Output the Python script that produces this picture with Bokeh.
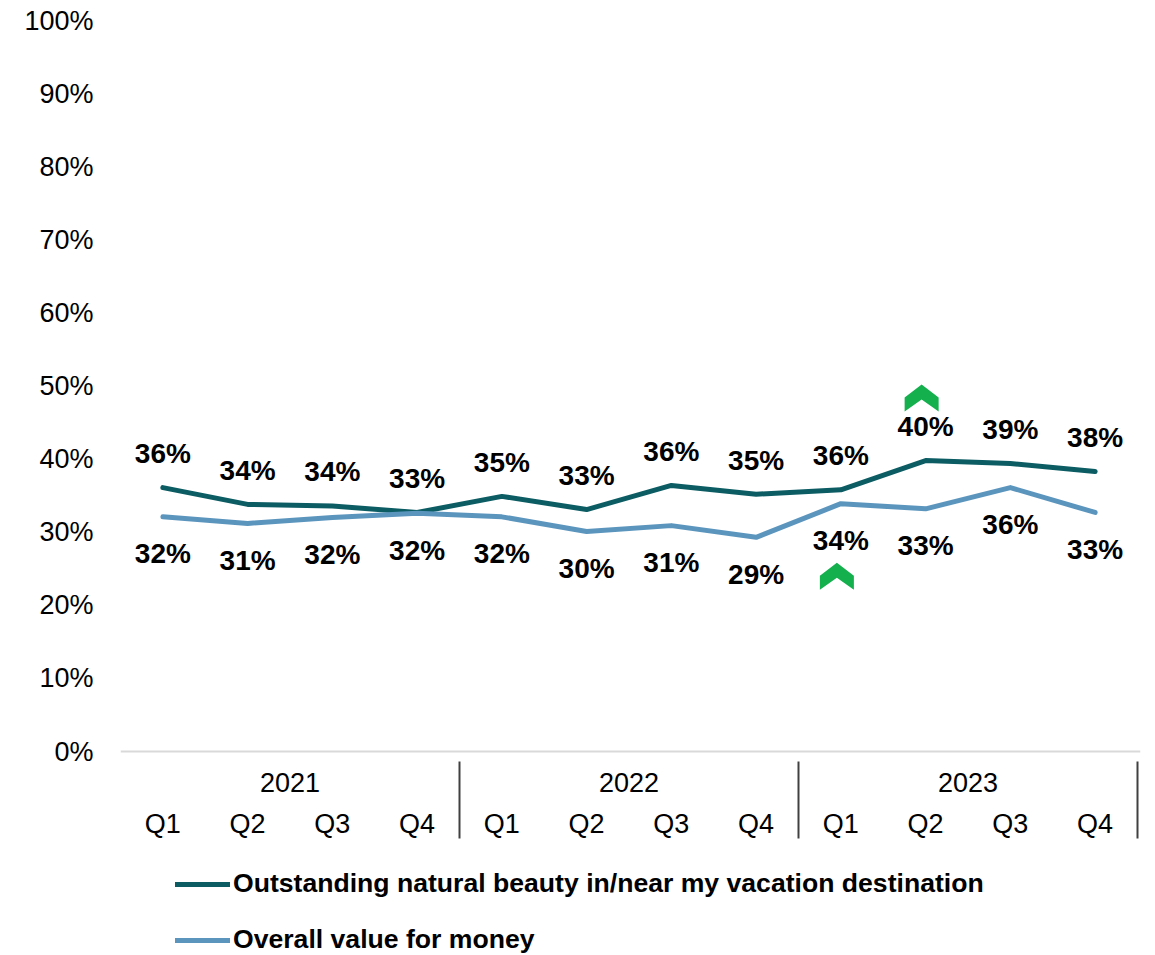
from bokeh.plotting import figure
from bokeh.models import Range1d, FixedTicker, PrintfTickFormatter, Span, Legend, LegendItem
from bokeh.core.properties import value
from bokeh.embed import file_html
from bokeh.resources import INLINE

# ---- data ----
years = ["2021", "2022", "2023"]
quarters = ["Q1", "Q2", "Q3", "Q4"]
series_names = ["Outstanding natural beauty in/near my vacation destination", "Overall value for money"]
natural_beauty = [36.1, 33.8, 33.6, 32.7, 34.9, 33.1, 36.4, 35.2, 35.8, 39.8, 39.4, 38.3]
value_for_money = [32.1, 31.2, 32.0, 32.6, 32.1, 30.1, 30.9, 29.3, 33.9, 33.2, 36.1, 32.7]
natural_labels = ["36%", "34%", "34%", "33%", "35%", "33%", "36%", "35%", "36%", "40%", "39%", "38%"]
value_labels = ["32%", "31%", "32%", "32%", "32%", "30%", "31%", "29%", "34%", "33%", "36%", "33%"]
# significant increases: (series index, quarter index)
increases = [(0, 9), (1, 8)]
y_ticks = [0, 10, 20, 30, 40, 50, 60, 70, 80, 90, 100]

# ---- layout constants (pixels) ----
W, H = 1155, 955
LEFT, RIGHT = 120, 1140
PX_PER_X = 84.75
Y0_PX, Y100_PX = 751, 20
PX_PER_Y = (Y0_PX - Y100_PX) / 100.0
n = len(years) * len(quarters)
REG = "27px"
BOLD = "28px"

def py(px):
    """pixel row -> data y"""
    return (Y0_PX - px) / PX_PER_Y

x_end = (RIGHT - LEFT) / PX_PER_X
p = figure(width=W, height=H, output_backend="svg", toolbar_location=None,
           x_range=Range1d(0, x_end), y_range=Range1d(py(H), py(0)),
           x_axis_location=None, min_border_left=LEFT, min_border_right=W - RIGHT,
           min_border_top=0, min_border_bottom=0)
p.outline_line_color = None
p.xgrid.visible = False
p.ygrid.visible = False
p.background_fill_color = "white"
p.border_fill_color = "white"

ax = p.yaxis[0]
ax.ticker = FixedTicker(ticks=y_ticks)
ax.formatter = PrintfTickFormatter(format="%d%%")
ax.axis_line_color = None
ax.major_tick_line_color = None
ax.minor_tick_line_color = None
ax.major_tick_out = 0
ax.major_label_standoff = 27
ax.major_label_text_font = "Liberation Sans"
ax.major_label_text_font_size = REG
ax.major_label_text_color = "#000000"

FONT = value("Liberation Sans")
DARK = "#0B5C63"
LIGHT = "#5B95BE"

p.add_layout(Span(location=0, dimension="width", line_color="#d9d9d9", line_width=2))

xs = [i + 0.5 for i in range(n)]

r1 = p.line(xs, natural_beauty, line_color=DARK, line_width=5, line_join="round", line_cap="round")
r2 = p.line(xs, value_for_money, line_color=LIGHT, line_width=5, line_join="round", line_cap="round")

p.text(xs, natural_beauty, text=natural_labels, y_offset=-34, text_align="center",
       text_baseline="middle", text_font=FONT, text_font_size=BOLD,
       text_font_style="bold", text_color="#000000")
p.text(xs, value_for_money, text=value_labels, y_offset=37, text_align="center",
       text_baseline="middle", text_font=FONT, text_font_size=BOLD,
       text_font_style="bold", text_color="#000000")

# category axis (years above quarters), separators
q_labels = [q for _ in years for q in quarters]
p.text(xs, [py(823)] * n, text=q_labels, text_align="center", text_baseline="middle",
       text_font=FONT, text_font_size=REG, text_color="#000000")
year_x = [len(quarters) * (k + 0.5) for k in range(len(years))]
p.text(year_x, [py(782)] * len(years), text=years, text_align="center", text_baseline="middle",
       text_font=FONT, text_font_size=REG, text_color="#000000")
sep_x = [len(quarters) * (k + 1) for k in range(len(years))]
p.segment(x0=sep_x, y0=[py(761)] * len(sep_x), x1=sep_x, y1=[py(838)] * len(sep_x),
          line_color="#404040", line_width=2)

# significant-increase chevrons
shape = [(0, 0), (17, 13), (17, 27), (0, 15), (-17, 27), (-17, 13)]
series_vals = [natural_beauty, value_for_money]
cx_list, cy_list = [], []
for s, i in increases:
    v = series_vals[s][i]
    top = v + 76 / PX_PER_Y if s == 0 else v - 59 / PX_PER_Y
    cx = i + 0.5 - 4 / PX_PER_X
    cx_list.append([cx + dx / PX_PER_X for dx, dy in shape])
    cy_list.append([top - dy / PX_PER_Y for dx, dy in shape])
p.patches(cx_list, cy_list, fill_color="#14B04E", line_color=None)

legend = Legend(items=[LegendItem(label=series_names[0], renderers=[r1]),
                       LegendItem(label=series_names[1], renderers=[r2])],
                location=(175 - LEFT, 0), orientation="vertical")
legend.padding = 0
legend.margin = 0
legend.border_line_color = None
legend.background_fill_alpha = 0
legend.glyph_width = 55
legend.glyph_height = 30
legend.label_height = 30
legend.spacing = 25
legend.label_standoff = 3
legend.label_text_font = "Liberation Sans"
legend.label_text_font_size = "26.6px"
legend.label_text_font_style = "bold"
legend.label_text_color = "#000000"
legend.label_text_baseline = "middle"
p.add_layout(legend)

open("out.html", "w").write(file_html(p, INLINE))
